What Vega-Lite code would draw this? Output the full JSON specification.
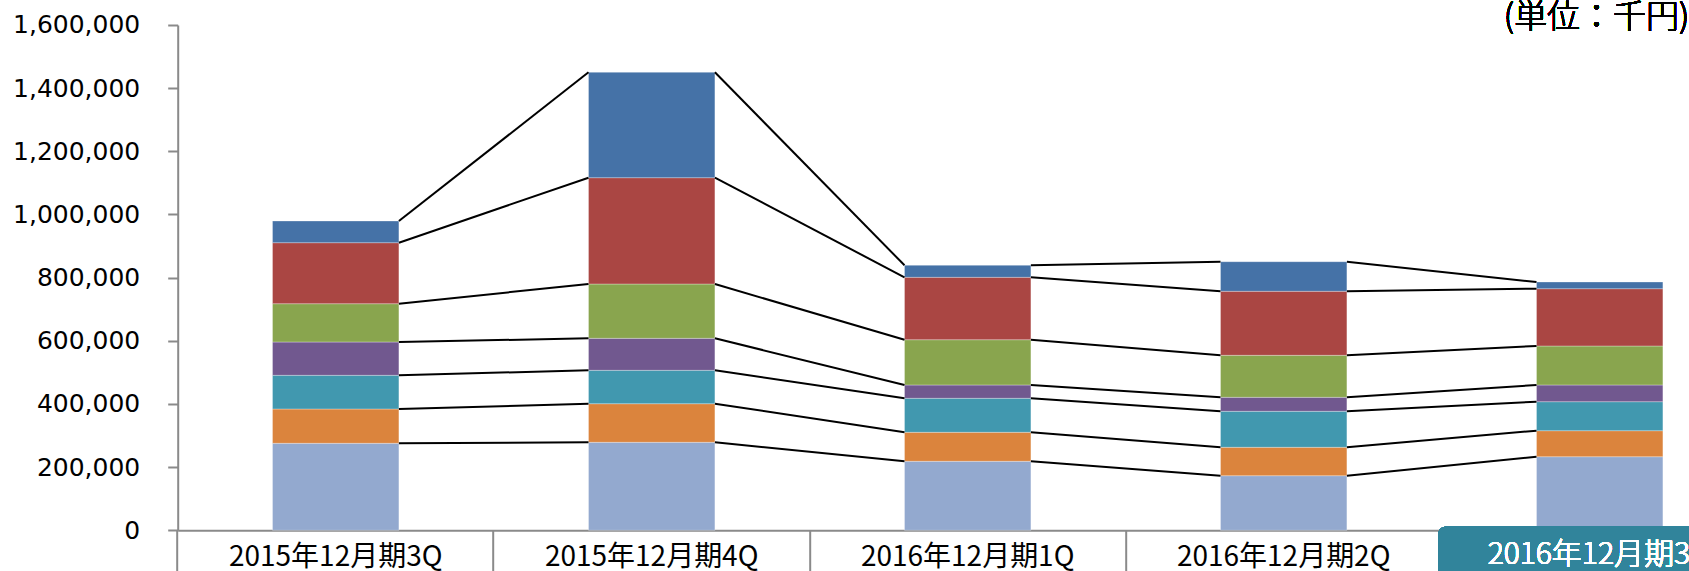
{
  "$schema": "https://vega.github.io/schema/vega-lite/v6.json",
  "autosize": {"type": "none"},
  "width": 1511.3,
  "height": 505.3,
  "padding": {"left": 177.7, "top": 25, "right": 0, "bottom": 41},
  "background": "white",
  "config": {
    "view": {"stroke": null},
    "axisY": {"domainColor": "#8a8a8a", "domainWidth": 2, "tickColor": "#8a8a8a", "tickWidth": 2, "tickSize": 10, "labelFont": "DejaVu Sans", "labelFontSize": 25, "labelColor": "#000000", "labelPadding": 28, "grid": false, "tickCount": 8},
    "axisX": {"domainColor": "#8a8a8a", "domainWidth": 2, "tickColor": "#8a8a8a", "tickWidth": 2, "tickSize": 45, "labelFont": "Noto Sans CJK JP", "labelFontSize": 28, "labelColor": "#000000", "labelBaseline": "alphabetic", "labelPadding": -9.5, "labelAngle": 0, "labelLimit": 500, "grid": false}
  },
  "data": {"values": [
    {"q": "2015年12月期3Q", "s": "系列1", "k": 1, "v": 275500},
    {"q": "2015年12月期3Q", "s": "系列2", "k": 2, "v": 108600},
    {"q": "2015年12月期3Q", "s": "系列3", "k": 3, "v": 106700},
    {"q": "2015年12月期3Q", "s": "系列4", "k": 4, "v": 105400},
    {"q": "2015年12月期3Q", "s": "系列5", "k": 5, "v": 121300},
    {"q": "2015年12月期3Q", "s": "系列6", "k": 6, "v": 193200},
    {"q": "2015年12月期3Q", "s": "系列7", "k": 7, "v": 68700},
    {"q": "2015年12月期4Q", "s": "系列1", "k": 1, "v": 278600},
    {"q": "2015年12月期4Q", "s": "系列2", "k": 2, "v": 122300},
    {"q": "2015年12月期4Q", "s": "系列3", "k": 3, "v": 105700},
    {"q": "2015年12月期4Q", "s": "系列4", "k": 4, "v": 101300},
    {"q": "2015年12月期4Q", "s": "系列5", "k": 5, "v": 172000},
    {"q": "2015年12月期4Q", "s": "系列6", "k": 6, "v": 336600},
    {"q": "2015年12月期4Q", "s": "系列7", "k": 7, "v": 333700},
    {"q": "2016年12月期1Q", "s": "系列1", "k": 1, "v": 218500},
    {"q": "2016年12月期1Q", "s": "系列2", "k": 2, "v": 91800},
    {"q": "2016年12月期1Q", "s": "系列3", "k": 3, "v": 107700},
    {"q": "2016年12月期1Q", "s": "系列4", "k": 4, "v": 42100},
    {"q": "2016年12月期1Q", "s": "系列5", "k": 5, "v": 143400},
    {"q": "2016年12月期1Q", "s": "系列6", "k": 6, "v": 197600},
    {"q": "2016年12月期1Q", "s": "系列7", "k": 7, "v": 38000},
    {"q": "2016年12月期2Q", "s": "系列1", "k": 1, "v": 172900},
    {"q": "2016年12月期2Q", "s": "系列2", "k": 2, "v": 89900},
    {"q": "2016年12月期2Q", "s": "系列3", "k": 3, "v": 114000},
    {"q": "2016年12月期2Q", "s": "系列4", "k": 4, "v": 44300},
    {"q": "2016年12月期2Q", "s": "系列5", "k": 5, "v": 133000},
    {"q": "2016年12月期2Q", "s": "系列6", "k": 6, "v": 202700},
    {"q": "2016年12月期2Q", "s": "系列7", "k": 7, "v": 93700},
    {"q": "2016年12月期3Q", "s": "系列1", "k": 1, "v": 233000},
    {"q": "2016年12月期3Q", "s": "系列2", "k": 2, "v": 82400},
    {"q": "2016年12月期3Q", "s": "系列3", "k": 3, "v": 91800},
    {"q": "2016年12月期3Q", "s": "系列4", "k": 4, "v": 52900},
    {"q": "2016年12月期3Q", "s": "系列5", "k": 5, "v": 123500},
    {"q": "2016年12月期3Q", "s": "系列6", "k": 6, "v": 181400},
    {"q": "2016年12月期3Q", "s": "系列7", "k": 7, "v": 21200}
  ]},
  "layer": [
    {
      "mark": {"type": "bar", "stroke": "#ffffff", "strokeOpacity": 0.3, "strokeWidth": 1},
      "encoding": {
        "x": {"field": "q", "type": "nominal", "scale": {"domain": ["2015年12月期3Q", "2015年12月期4Q", "2016年12月期1Q", "2016年12月期2Q", "2016年12月期3Q"], "range": [0, 1580], "paddingInner": 0.6, "paddingOuter": 0.3}, "axis": {"title": null, "bandPosition": -0.75, "labelExpr": "datum.value == '2016年12月期3Q' ? '' : datum.label"}},
        "y": {"field": "v", "type": "quantitative", "stack": "zero", "scale": {"domain": [0, 1600000], "nice": false}, "axis": {"title": null, "format": ",d"}},
        "color": {"field": "s", "type": "nominal", "legend": null, "scale": {"domain": ["系列1", "系列2", "系列3", "系列4", "系列5", "系列6", "系列7"], "range": ["#93a9cf", "#db843d", "#4198af", "#71588f", "#89a54e", "#aa4643", "#4572a7"]}},
        "order": {"field": "k", "type": "quantitative", "sort": "ascending"}
      }
    },
    {
      "transform": [
        {"stack": "v", "groupby": ["q"], "sort": [{"field": "k", "order": "ascending"}], "as": ["lo", "hi"]},
        {"window": [{"op": "lead", "field": "hi", "as": "hi2"}, {"op": "lead", "field": "q", "as": "q2"}], "groupby": ["s"], "sort": [{"field": "q", "order": "ascending"}]},
        {"filter": "datum.q2 != null"}
      ],
      "mark": {"type": "rule", "color": "#000000", "strokeWidth": 2},
      "encoding": {
        "x": {"field": "q", "type": "nominal", "bandPosition": 1},
        "x2": {"field": "q2", "bandPosition": 0},
        "y": {"field": "hi", "type": "quantitative"},
        "y2": {"field": "hi2"}
      }
    },
    {
      "mark": {"type": "rect", "color": "#31849b", "cornerRadius": 7, "yOffset": -3.5, "y2Offset": 60},
      "encoding": {
        "x": {"datum": "2016年12月期3Q", "type": "nominal", "bandPosition": -0.775},
        "x2": {"datum": "2016年12月期3Q", "bandPosition": 2},
        "y": {"datum": 0, "type": "quantitative"},
        "y2": {"datum": 0}
      }
    },
    {
      "mark": {"type": "text", "color": "#ffffff", "font": "Noto Sans CJK JP", "fontSize": 30, "fontWeight": 300, "baseline": "alphabetic", "align": "center", "dy": 34},
      "encoding": {
        "x": {"datum": "2016年12月期3Q", "type": "nominal"},
        "y": {"datum": 0, "type": "quantitative"},
        "text": {"datum": "2016年12月期3Q"}
      }
    },
    {
      "mark": {"type": "text", "color": "#000000", "font": "Noto Sans CJK JP", "fontSize": 33, "fontWeight": 300, "baseline": "alphabetic", "align": "right", "dy": 3},
      "encoding": {
        "x": {"datum": "2016年12月期3Q", "type": "nominal", "bandPosition": 1.21},
        "y": {"datum": 1600000, "type": "quantitative"},
        "text": {"datum": "(単位：千円)"}
      }
    }
  ]
}
